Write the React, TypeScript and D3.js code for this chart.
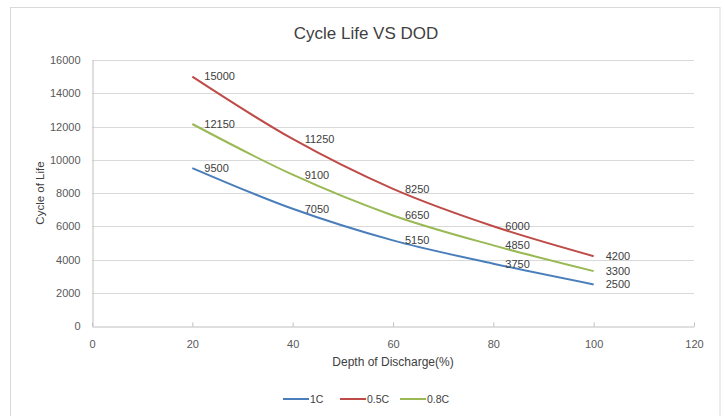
import React, { useRef, useEffect } from 'react';
import * as d3 from 'd3';

// Depth of discharge (%) and cycle life per discharge rate
const dod = [20, 40, 60, 80, 100];
const life1C = [9500, 7050, 5150, 3750, 2500];
const life05C = [15000, 11250, 8250, 6000, 4200];
const life08C = [12150, 9100, 6650, 4850, 3300];
const seriesNames = ['1C', '0.5C', '0.8C'];
const xTicks = [0, 20, 40, 60, 80, 100, 120];
const yTicks = [0, 2000, 4000, 6000, 8000, 10000, 12000, 14000, 16000];

const App = () => {
    const svgRef = useRef<SVGSVGElement>(null);

    useEffect(() => {
        const svg = d3.select(svgRef.current);
        svg.selectAll('*').remove();

        const font = '"Liberation Sans", Arial, sans-serif';
        const width = 725;
        const height = 416;
        const margin = { top: 60, right: 31, bottom: 90, left: 92 };

        // chart frame
        svg.append('rect')
            .attr('x', 10.5)
            .attr('y', 7.5)
            .attr('width', 709.5)
            .attr('height', 420)
            .attr('fill', '#fff')
            .attr('stroke', '#d9d9d9');

        const x = d3.scaleLinear().domain([0, 120]).range([margin.left, width - margin.right]);
        const y = d3.scaleLinear().domain([0, 16000]).range([height - margin.bottom, margin.top]);

        const color = d3.scaleOrdinal<string, string>()
            .domain(seriesNames)
            .range(['#4a7ebb', '#be4b48', '#98b954']);

        // title
        svg.append('text')
            .attr('x', 366)
            .attr('y', 39)
            .attr('text-anchor', 'middle')
            .attr('font-family', font)
            .attr('font-size', 17)
            .attr('fill', '#404040')
            .text('Cycle Life VS DOD');

        // gridlines
        svg.append('g')
            .selectAll('line')
            .data(yTicks.filter(d => d > 0))
            .enter()
            .append('line')
            .attr('x1', x(0))
            .attr('x2', x(120))
            .attr('y1', d => Math.round(y(d)) + 0.5)
            .attr('y2', d => Math.round(y(d)) + 0.5)
            .attr('stroke', '#d9d9d9');

        // y axis
        const yAxis = svg.append('g')
            .attr('transform', `translate(${x(0) + 0.5},0)`)
            .call(d3.axisLeft(y).tickValues(yTicks).tickSize(0).tickPadding(12).tickFormat(d3.format('d')));
        yAxis.select('.domain').attr('stroke', '#bfbfbf');
        yAxis.selectAll('text')
            .attr('font-family', font)
            .attr('font-size', 11)
            .attr('fill', '#595959');

        // x axis
        const xAxis = svg.append('g')
            .attr('transform', `translate(0,${Math.round(y(0)) + 0.5})`)
            .call(d3.axisBottom(x).tickValues(xTicks).tickSizeInner(-4).tickSizeOuter(0).tickPadding(14));
        xAxis.select('.domain').attr('stroke', '#bfbfbf');
        xAxis.selectAll('line').attr('stroke', '#bfbfbf');
        xAxis.selectAll('text')
            .attr('font-family', font)
            .attr('font-size', 11)
            .attr('fill', '#595959');

        // axis titles
        svg.append('text')
            .attr('transform', `translate(44,193) rotate(-90)`)
            .attr('text-anchor', 'middle')
            .attr('font-family', font)
            .attr('font-size', 11.5)
            .attr('fill', '#404040')
            .text('Cycle of Life');

        svg.append('text')
            .attr('x', 393)
            .attr('y', 366)
            .attr('text-anchor', 'middle')
            .attr('font-family', font)
            .attr('font-size', 12)
            .attr('fill', '#404040')
            .text('Depth of Discharge(%)');

        // series
        const series = [
            { name: '1C', values: life1C },
            { name: '0.5C', values: life05C },
            { name: '0.8C', values: life08C },
        ];

        const line = d3.line<number>()
            .x((d, i) => x(dod[i]))
            .y(d => y(d))
            .curve(d3.curveCardinal.tension(0));

        series.forEach(s => {
            svg.append('path')
                .datum(s.values)
                .attr('d', line)
                .attr('fill', 'none')
                .attr('stroke', color(s.name))
                .attr('stroke-width', 2);

            svg.append('g')
                .selectAll('text')
                .data(s.values)
                .enter()
                .append('text')
                .attr('x', (d, i) => x(dod[i]) + 12)
                .attr('y', d => y(d))
                .attr('dy', '0.35em')
                .attr('font-family', font)
                .attr('font-size', 11)
                .attr('fill', '#404040')
                .text(d => d);
        });

        // legend
        const legendX = [283, 340, 400];
        const legend = svg.append('g').attr('transform', 'translate(0,399)');
        seriesNames.forEach((name, i) => {
            legend.append('line')
                .attr('x1', legendX[i])
                .attr('x2', legendX[i] + 26)
                .attr('y1', 0)
                .attr('y2', 0)
                .attr('stroke', color(name))
                .attr('stroke-width', 2);
            legend.append('text')
                .attr('x', legendX[i] + 27)
                .attr('y', 0)
                .attr('dy', '0.35em')
                .attr('font-family', font)
                .attr('font-size', 10.5)
                .attr('fill', '#404040')
                .text(name);
        });
    }, []);

    return (
        <svg
            ref={svgRef}
            width={725}
            height={416}
            style={{ position: 'absolute', left: 0, top: 0, background: '#fff' }}
        />
    );
};

export default App;
